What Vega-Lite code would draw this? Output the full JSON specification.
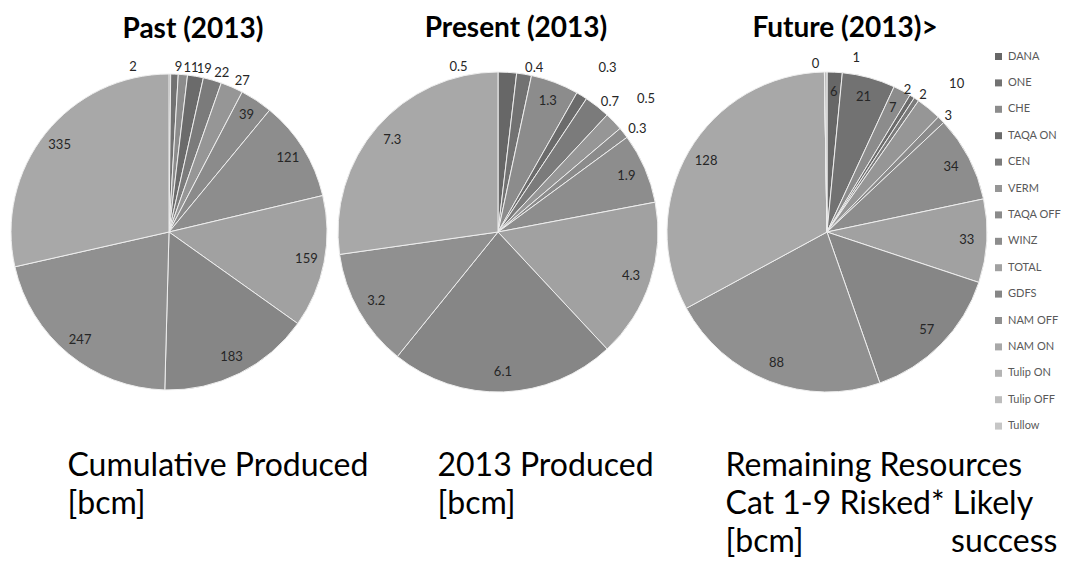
{
  "$schema": "https://vega.github.io/schema/vega-lite/v6.json",
  "padding": {"left": 7, "top": 15, "right": 0, "bottom": 0},
  "bounds": "flush",
  "spacing": 13,
  "config": {
    "view": {"stroke": null},
    "font": "Lato",
    "title": {"font": "Lato", "color": "#000000", "frame": "group"},
    "legend": {"labelFont": "Lato"}
  },
  "datasets": {
    "gas": [
      {"period": "Past", "company": "DANA", "seq": 1, "value": 2},
      {"period": "Past", "company": "ONE", "seq": 2, "value": 9},
      {"period": "Past", "company": "CHE", "seq": 3, "value": 11},
      {"period": "Past", "company": "TAQA ON", "seq": 4, "value": 19},
      {"period": "Past", "company": "CEN", "seq": 5, "value": 22},
      {"period": "Past", "company": "VERM", "seq": 6, "value": 27},
      {"period": "Past", "company": "TAQA OFF", "seq": 7, "value": 39},
      {"period": "Past", "company": "WINZ", "seq": 8, "value": 121},
      {"period": "Past", "company": "TOTAL", "seq": 9, "value": 159},
      {"period": "Past", "company": "GDFS", "seq": 10, "value": 183},
      {"period": "Past", "company": "NAM OFF", "seq": 11, "value": 247},
      {"period": "Past", "company": "NAM ON", "seq": 12, "value": 335},
      {"period": "Present", "company": "DANA", "seq": 1, "value": 0.5},
      {"period": "Present", "company": "ONE", "seq": 2, "value": 0.4},
      {"period": "Present", "company": "CHE", "seq": 3, "value": 1.3},
      {"period": "Present", "company": "TAQA ON", "seq": 4, "value": 0.3},
      {"period": "Present", "company": "CEN", "seq": 5, "value": 0.7},
      {"period": "Present", "company": "VERM", "seq": 6, "value": 0.5},
      {"period": "Present", "company": "TAQA OFF", "seq": 7, "value": 0.3},
      {"period": "Present", "company": "WINZ", "seq": 8, "value": 1.9},
      {"period": "Present", "company": "TOTAL", "seq": 9, "value": 4.3},
      {"period": "Present", "company": "GDFS", "seq": 10, "value": 6.1},
      {"period": "Present", "company": "NAM OFF", "seq": 11, "value": 3.2},
      {"period": "Present", "company": "NAM ON", "seq": 12, "value": 7.3},
      {"period": "Future", "company": "DANA", "seq": 1, "value": 6},
      {"period": "Future", "company": "ONE", "seq": 2, "value": 21},
      {"period": "Future", "company": "CHE", "seq": 3, "value": 7},
      {"period": "Future", "company": "TAQA ON", "seq": 4, "value": 2},
      {"period": "Future", "company": "CEN", "seq": 5, "value": 2},
      {"period": "Future", "company": "VERM", "seq": 6, "value": 10},
      {"period": "Future", "company": "TAQA OFF", "seq": 7, "value": 3},
      {"period": "Future", "company": "WINZ", "seq": 8, "value": 34},
      {"period": "Future", "company": "TOTAL", "seq": 9, "value": 33},
      {"period": "Future", "company": "GDFS", "seq": 10, "value": 57},
      {"period": "Future", "company": "NAM OFF", "seq": 11, "value": 88},
      {"period": "Future", "company": "NAM ON", "seq": 12, "value": 128},
      {"period": "Future", "company": "Tulip ON", "seq": 13, "value": 0},
      {"period": "Future", "company": "Tulip OFF", "seq": 14, "value": 1}
    ]
  },
  "hconcat": [
    {
      "width": 316,
      "height": 316,
      "data": {"name": "gas"},
      "title": {"text": "Past (2013)", "anchor": "middle", "dx": 24, "fontSize": 28, "fontWeight": "bold", "offset": 17},
      "transform": [{"filter": "datum.period === 'Past'"}],
      "layer": [
        {
          "mark": {"type": "arc", "outerRadius": 158, "stroke": "#eeeeee", "strokeWidth": 1},
          "encoding": {
            "theta": {"field": "value", "type": "quantitative", "stack": true},
            "order": {"field": "seq", "type": "quantitative"},
            "color": {
              "field": "company", "type": "nominal",
              "sort": ["DANA", "ONE", "CHE", "TAQA ON", "CEN", "VERM", "TAQA OFF", "WINZ", "TOTAL", "GDFS", "NAM OFF", "NAM ON", "Tulip ON", "Tulip OFF", "Tullow"],
              "scale": {
                "domain": ["DANA", "ONE", "CHE", "TAQA ON", "CEN", "VERM", "TAQA OFF", "WINZ", "TOTAL", "GDFS", "NAM OFF", "NAM ON", "Tulip ON", "Tulip OFF", "Tullow"],
                "range": ["#676767", "#727272", "#8c8c8c", "#6b6b6b", "#7b7b7b", "#969696", "#8b8b8b", "#8d8d8d", "#a1a1a1", "#868686", "#909090", "#a8a8a8", "#b4b4b4", "#bdbdbd", "#c6c6c6"]
              },
              "legend": {
                "title": null, "orient": "none", "legendX": 982, "legendY": -23,
                "symbolType": "square", "symbolSize": 49, "symbolStrokeWidth": 0,
                "labelFontSize": 11, "labelColor": "#595959", "rowPadding": 14.4, "labelOffset": 4, "padding": 0
              }
            }
          }
        },
        {
          "mark": {"type": "text", "radius": 140, "fontSize": 13, "fill": "#262626", "font": "Lato"},
          "encoding": {
            "theta": {"field": "value", "type": "quantitative", "stack": true},
            "order": {"field": "seq", "type": "quantitative"},
            "text": {"condition": {"test": "datum.value >= 30", "field": "value", "type": "quantitative"}, "value": ""}
          }
        },
        {
          "mark": {"type": "text", "radius": 165, "fontSize": 13, "fill": "#262626", "font": "Lato", "align": "left"},
          "encoding": {
            "theta": {"field": "value", "type": "quantitative", "stack": true},
            "order": {"field": "seq", "type": "quantitative"},
            "text": {"condition": {"test": "datum.value < 30 && datum.company !== 'DANA'", "field": "value", "type": "quantitative"}, "value": ""}
          }
        },
        {
          "mark": {"type": "text", "radius": 165, "fontSize": 13, "fill": "#262626", "font": "Lato", "align": "right", "dx": -33},
          "encoding": {
            "theta": {"field": "value", "type": "quantitative", "stack": true},
            "order": {"field": "seq", "type": "quantitative"},
            "text": {"condition": {"test": "datum.company === 'DANA'", "field": "value", "type": "quantitative"}, "value": ""}
          }
        },
        {
          "mark": {"type": "rule", "opacity": 0},
          "encoding": {
            "x": {"datum": 0, "type": "quantitative", "axis": {
              "domain": false, "ticks": false, "labels": false, "grid": false,
              "title": ["Cumulative Produced", "[bcm]"],
              "titleFont": "Lato", "titleFontSize": 32, "titleFontWeight": "normal", "titleColor": "#000000",
              "titleAnchor": "start", "titleAlign": "left", "titleBaseline": "top", "titleX": 56, "titleY": 60, "titleLineHeight": 38
            }}
          }
        }
      ]
    },
    {
      "width": 316,
      "height": 316,
      "data": {"name": "gas"},
      "title": {"text": "Present (2013)", "anchor": "middle", "dx": 18, "fontSize": 28, "fontWeight": "bold", "offset": -9},
      "transform": [{"filter": "datum.period === 'Present'"}],
      "layer": [
        {
          "mark": {"type": "arc", "outerRadius": 160, "stroke": "#eeeeee", "strokeWidth": 1},
          "encoding": {
            "theta": {"field": "value", "type": "quantitative", "stack": true},
            "order": {"field": "seq", "type": "quantitative"},
            "color": {"field": "company", "type": "nominal", "sort": ["DANA", "ONE", "CHE", "TAQA ON", "CEN", "VERM", "TAQA OFF", "WINZ", "TOTAL", "GDFS", "NAM OFF", "NAM ON", "Tulip ON", "Tulip OFF", "Tullow"]}
          }
        },
        {
          "mark": {"type": "text", "radius": 140, "fontSize": 13, "fill": "#262626", "font": "Lato"},
          "encoding": {
            "theta": {"field": "value", "type": "quantitative", "stack": true},
            "order": {"field": "seq", "type": "quantitative"},
            "text": {"condition": {"test": "datum.value >= 1", "field": "value", "type": "quantitative"}, "value": ""}
          }
        },
        {
          "mark": {"type": "text", "radius": 166, "fontSize": 13, "fill": "#262626", "font": "Lato", "align": "left"},
          "encoding": {
            "theta": {"field": "value", "type": "quantitative", "stack": true},
            "order": {"field": "seq", "type": "quantitative"},
            "text": {"condition": {"test": "datum.value < 1 && datum.company !== 'DANA' && datum.company !== 'VERM' && datum.company !== 'TAQA ON'", "field": "value", "type": "quantitative"}, "value": ""}
          }
        },
        {
          "mark": {"type": "text", "radius": 192, "fontSize": 13, "fill": "#262626", "font": "Lato", "align": "left"},
          "encoding": {
            "theta": {"field": "value", "type": "quantitative", "stack": true},
            "order": {"field": "seq", "type": "quantitative"},
            "text": {"condition": {"test": "datum.company === 'VERM' || datum.company === 'TAQA ON'", "field": "value", "type": "quantitative"}, "value": ""}
          }
        },
        {
          "mark": {"type": "text", "radius": 165, "fontSize": 13, "fill": "#262626", "font": "Lato", "align": "right", "dx": -40},
          "encoding": {
            "theta": {"field": "value", "type": "quantitative", "stack": true},
            "order": {"field": "seq", "type": "quantitative"},
            "text": {"condition": {"test": "datum.company === 'DANA'", "field": "value", "type": "quantitative"}, "value": ""}
          }
        },
        {
          "mark": {"type": "rule", "opacity": 0},
          "encoding": {
            "x": {"datum": 0, "type": "quantitative", "axis": {
              "domain": false, "ticks": false, "labels": false, "grid": false,
              "title": ["2013 Produced", "[bcm]"],
              "titleFont": "Lato", "titleFontSize": 32, "titleFontWeight": "normal", "titleColor": "#000000",
              "titleAnchor": "start", "titleAlign": "left", "titleBaseline": "top", "titleX": 97, "titleY": 60, "titleLineHeight": 38
            }}
          }
        }
      ]
    },
    {
      "width": 316,
      "height": 316,
      "data": {"name": "gas"},
      "title": {"text": "Future (2013)>", "anchor": "middle", "dx": 18, "fontSize": 28, "fontWeight": "bold", "offset": -9},
      "transform": [{"filter": "datum.period === 'Future'"}],
      "layer": [
        {
          "mark": {"type": "arc", "outerRadius": 160, "stroke": "#eeeeee", "strokeWidth": 1},
          "encoding": {
            "theta": {"field": "value", "type": "quantitative", "stack": true},
            "order": {"field": "seq", "type": "quantitative"},
            "color": {"field": "company", "type": "nominal", "sort": ["DANA", "ONE", "CHE", "TAQA ON", "CEN", "VERM", "TAQA OFF", "WINZ", "TOTAL", "GDFS", "NAM OFF", "NAM ON", "Tulip ON", "Tulip OFF", "Tullow"]}
          }
        },
        {
          "mark": {"type": "text", "radius": 140, "fontSize": 13, "fill": "#262626", "font": "Lato"},
          "encoding": {
            "theta": {"field": "value", "type": "quantitative", "stack": true},
            "order": {"field": "seq", "type": "quantitative"},
            "text": {"condition": {"test": "datum.value >= 5 && datum.company !== 'VERM'", "field": "value", "type": "quantitative"}, "value": ""}
          }
        },
        {
          "mark": {"type": "text", "radius": 165, "fontSize": 13, "fill": "#262626", "font": "Lato", "align": "left"},
          "encoding": {
            "theta": {"field": "value", "type": "quantitative", "stack": true},
            "order": {"field": "seq", "type": "quantitative"},
            "text": {"condition": {"test": "datum.company === 'CEN' || datum.company === 'TAQA OFF'", "field": "value", "type": "quantitative"}, "value": ""}
          }
        },
        {
          "mark": {"type": "text", "radius": 192, "fontSize": 13, "fill": "#262626", "font": "Lato", "align": "left"},
          "encoding": {
            "theta": {"field": "value", "type": "quantitative", "stack": true},
            "order": {"field": "seq", "type": "quantitative"},
            "text": {"condition": {"test": "datum.company === 'VERM'", "field": "value", "type": "quantitative"}, "value": ""}
          }
        },
        {
          "mark": {"type": "text", "radius": 168, "fontSize": 13, "fill": "#262626", "font": "Lato", "align": "right", "dx": -5},
          "encoding": {
            "theta": {"field": "value", "type": "quantitative", "stack": true},
            "order": {"field": "seq", "type": "quantitative"},
            "text": {"condition": {"test": "datum.company === 'TAQA ON' || datum.company === 'Tulip ON'", "field": "value", "type": "quantitative"}, "value": ""}
          }
        },
        {
          "mark": {"type": "text", "radius": 174, "fontSize": 13, "fill": "#262626", "font": "Lato", "align": "left", "dx": 27},
          "encoding": {
            "theta": {"field": "value", "type": "quantitative", "stack": true},
            "order": {"field": "seq", "type": "quantitative"},
            "text": {"condition": {"test": "datum.company === 'Tulip OFF'", "field": "value", "type": "quantitative"}, "value": ""}
          }
        },
        {
          "mark": {"type": "rule", "opacity": 0},
          "encoding": {
            "x": {"datum": 0, "type": "quantitative", "axis": {
              "domain": false, "ticks": false, "labels": false, "grid": false,
              "title": ["Remaining Resources", "Cat 1-9 Risked* Likely", "[bcm]\u00a0\u00a0\u00a0\u00a0\u00a0\u00a0\u00a0\u00a0\u00a0\u00a0\u00a0\u00a0\u00a0\u00a0\u00a0\u00a0\u00a0\u00a0success"],
              "titleFont": "Lato", "titleFontSize": 32, "titleFontWeight": "normal", "titleColor": "#000000",
              "titleAnchor": "start", "titleAlign": "left", "titleBaseline": "top", "titleX": 56, "titleY": 60, "titleLineHeight": 38
            }}
          }
        }
      ]
    }
  ]
}
